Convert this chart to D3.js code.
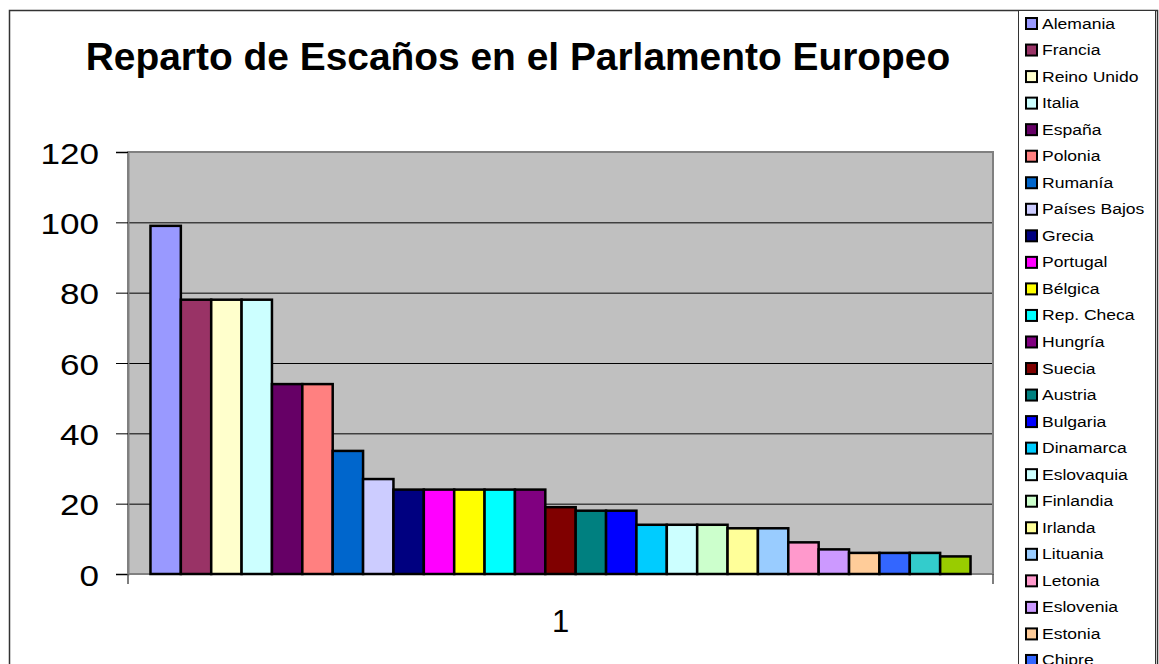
<!DOCTYPE html>
<html>
<head>
<meta charset="utf-8">
<script src="https://cdn.jsdelivr.net/npm/d3@7"></script>
<style>
  body { margin: 0; background: #fff; }
  text { font-family: "Liberation Sans", Arial, sans-serif; }
</style>
</head>
<body>
<div id="chart"></div>
<script>
// DATA
const countries = ["Alemania", "Francia", "Reino Unido", "Italia", "España", "Polonia", "Rumanía",
  "Países Bajos", "Grecia", "Portugal", "Bélgica", "Rep. Checa", "Hungría", "Suecia", "Austria",
  "Bulgaria", "Dinamarca", "Eslovaquia", "Finlandia", "Irlanda", "Lituania", "Letonia",
  "Eslovenia", "Estonia", "Chipre", "Luxemburgo", "Malta"];
const seats = [99, 78, 78, 78, 54, 54, 35, 27, 24, 24, 24, 24, 24, 19, 18, 18, 14, 14, 14, 13, 13,
  9, 7, 6, 6, 6, 5];
const colors = ["#9999FF", "#993366", "#FFFFCC", "#CCFFFF", "#660066", "#FF8080", "#0066CC",
  "#CCCCFF", "#000080", "#FF00FF", "#FFFF00", "#00FFFF", "#800080", "#800000", "#008080",
  "#0000FF", "#00CCFF", "#CCFFFF", "#CCFFCC", "#FFFF99", "#99CCFF", "#FF99CC", "#CC99FF",
  "#FFCC99", "#3366FF", "#33CCCC", "#99CC00"];
const categories = ["1"];
const yTicks = [0, 20, 40, 60, 80, 100, 120];

const W = 1159, H = 664;
const plot = { left: 128, right: 993, top: 152, bottom: 574 };

const svg = d3.select("#chart").append("svg")
    .attr("width", W)
    .attr("height", H);

// outer chart border
svg.append("rect")
    .attr("x", 9.5).attr("y", 10.5)
    .attr("width", 1148).attr("height", 700)
    .attr("fill", "#fff")
    .attr("stroke", "#333").attr("stroke-width", 1.5);

// SCALES
const yScale = d3.scaleLinear().domain([0, 120]).range([plot.bottom, plot.top]);
const xCat = d3.scaleBand().domain(categories).range([plot.left, plot.right]).paddingOuter(0.0274);
const xBar = d3.scaleBand().domain(countries).range([xCat("1"), xCat("1") + xCat.bandwidth()]);
const colorScale = d3.scaleOrdinal().domain(countries).range(colors);

// plot background
svg.append("rect")
    .attr("x", plot.left).attr("y", plot.top)
    .attr("width", plot.right - plot.left).attr("height", plot.bottom - plot.top)
    .attr("fill", "#C0C0C0");

// gridlines
svg.append("g")
    .selectAll("line")
    .data(yTicks.filter(d => d > 0 && d < 120))
    .enter().append("line")
    .attr("x1", plot.left).attr("x2", plot.right)
    .attr("y1", d => yScale(d) + 0.5).attr("y2", d => yScale(d) + 0.5)
    .attr("stroke", "#000").attr("stroke-width", 1);

// plot border
svg.append("rect")
    .attr("x", plot.left).attr("y", plot.top)
    .attr("width", plot.right - plot.left).attr("height", plot.bottom - plot.top)
    .attr("fill", "none")
    .attr("stroke", "#808080").attr("stroke-width", 2);

// BARS
svg.append("g")
    .selectAll("rect")
    .data(countries)
    .enter().append("rect")
    .attr("x", d => xBar(d))
    .attr("y", (d, i) => yScale(seats[i]))
    .attr("width", xBar.bandwidth())
    .attr("height", (d, i) => yScale(0) - yScale(seats[i]))
    .attr("fill", d => colorScale(d))
    .attr("stroke", "#000").attr("stroke-width", 2.5);

// Y AXIS
const yAxis = svg.append("g")
    .attr("transform", `translate(${plot.left},0)`)
    .call(d3.axisLeft(yScale).tickValues(yTicks).tickSize(12).tickPadding(0));
yAxis.select(".domain").attr("stroke", "#808080").attr("stroke-width", 2);
yAxis.selectAll(".tick line").attr("stroke", "#000");
yAxis.selectAll(".tick text").remove();
yAxis.selectAll(".tick")
    .append("text")
    .attr("text-anchor", "end")
    .attr("fill", "#000")
    .style("font-size", "30px")
    .attr("transform", "translate(-29,11) scale(1.17,1)")
    .text(d => d);

// X AXIS
const xAxis = svg.append("g")
    .attr("transform", `translate(0,${plot.bottom})`);
xAxis.selectAll("line")
    .data([plot.left, plot.right])
    .enter().append("line")
    .attr("x1", d => d).attr("x2", d => d)
    .attr("y1", 0).attr("y2", 10)
    .attr("stroke", "#555").attr("stroke-width", 1.5);
xAxis.selectAll("text")
    .data(categories)
    .enter().append("text")
    .attr("x", d => xCat(d) + xCat.bandwidth() / 2)
    .attr("y", 58)
    .attr("text-anchor", "middle")
    .style("font-size", "31px")
    .text(d => d);

// TITLE
svg.append("text")
    .attr("x", 518)
    .attr("y", 70)
    .attr("text-anchor", "middle")
    .style("font-size", "38.9px")
    .style("font-weight", "bold")
    .text("Reparto de Escaños en el Parlamento Europeo");

// LEGEND
svg.append("rect")
    .attr("x", 1018.5).attr("y", 10.5)
    .attr("width", 137).attr("height", 700)
    .attr("fill", "#fff")
    .attr("stroke", "#333").attr("stroke-width", 1);

const legend = svg.selectAll(".legend")
    .data(countries)
    .enter().append("g")
    .attr("class", "legend")
    .attr("transform", (d, i) => `translate(1026, ${23 + i * 26.54})`);

legend.append("rect")
    .attr("x", 0).attr("y", -5)
    .attr("width", 11).attr("height", 11)
    .attr("fill", d => colorScale(d))
    .attr("stroke", "#000").attr("stroke-width", 2);

legend.append("text")
    .attr("transform", "translate(16,5.5) scale(1.17,1)")
    .style("font-size", "15px")
    .text(d => d);
</script>
</body>
</html>
